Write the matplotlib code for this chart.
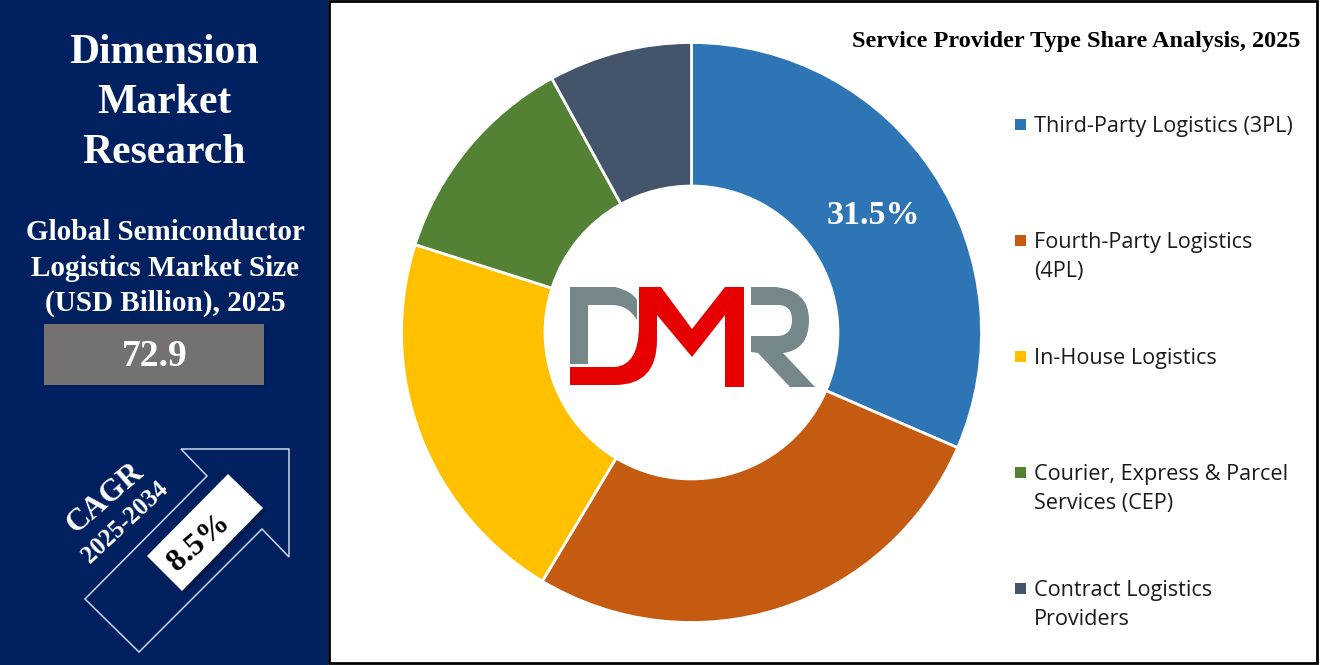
import numpy as np
import matplotlib
matplotlib.use("Agg")
import matplotlib.pyplot as plt
from matplotlib.patches import Polygon, Rectangle, PathPatch
from matplotlib.path import Path

categories = ["Third-Party Logistics (3PL)", "Fourth-Party Logistics\n(4PL)", "In-House Logistics",
              "Courier, Express & Parcel\nServices (CEP)", "Contract Logistics\nProviders"]
shares = [31.5, 27.1, 21.3, 12.1, 8.0]
colors = ["#2E75B6", "#C55A11", "#FFC000", "#548235", "#44546A"]
legend_y = [124, 240, 356, 472, 588]
title = "Service Provider Type Share Analysis, 2025"
W, H = 1322, 665
NAVY = "#002060"
SERIF = "Liberation Serif"
SANS = "Open Sans"

fig = plt.figure(figsize=(W/100, H/100), dpi=100, facecolor="white")
bg = fig.add_axes([0, 0, 1, 1]); bg.set_xlim(0, W); bg.set_ylim(H, 0); bg.axis("off")
bg.add_patch(Rectangle((0, 0), 328, 665, fc=NAVY, ec="none"))
bg.add_patch(Rectangle((329, 1), 987.5, 661.5, fc="white", ec="black", lw=2))

# donut
cx, cy, R = 691.5, 332.5, 290
ax = fig.add_axes([(cx-R)/W, 1-(cy+R)/H, 2*R/W, 2*R/H])
ax.pie(shares, colors=colors, startangle=90, counterclock=False, radius=1,
       wedgeprops=dict(width=0.495, edgecolor="white", linewidth=2))
ax.set_xlim(-1, 1); ax.set_ylim(-1, 1); ax.set_aspect("equal")
ax.patch.set_alpha(0)

ov = fig.add_axes([0, 0, 1, 1]); ov.set_xlim(0, W); ov.set_ylim(H, 0); ov.axis("off")
ov.patch.set_alpha(0)

ov.text(873, 215, f"{shares[0]}%", color="white", family=SERIF, weight="bold", fontsize=24.5, ha="center", va="center")

# side panel
for t, y in zip(["Dimension", "Market", "Research"], [53, 103, 153]):
    ov.text(164, y, t, color="white", family=SERIF, weight="bold", fontsize=30, ha="center", va="center")
for t, y in zip(["Global Semiconductor", "Logistics Market Size", "(USD Billion), 2025"], [233, 268, 303]):
    ov.text(165, y, t, color="white", family=SERIF, weight="bold", fontsize=21, ha="center", va="center")
ov.add_patch(Rectangle((47, 327), 220, 60, fc="#001a4d", ec="none", alpha=.6))
ov.add_patch(Rectangle((44, 324), 220, 61, fc="#767171", ec="none"))
ov.text(154.5, 357, "72.9", color="white", family=SERIF, weight="bold", fontsize=27, ha="center", va="center")

arrow = [(85, 599), (207, 476), (181, 449), (289, 449), (289, 557), (262, 529), (139, 652)]
ov.add_patch(Polygon(arrow, closed=True, fc="none", ec="#c9d6ee", lw=1.1))
ov.add_patch(Polygon([(231, 477), (266, 511), (185, 594), (150, 559)], fc="#00153f", ec="none", alpha=.6))
ov.add_patch(Polygon([(228, 474), (263, 508), (182, 591), (147, 556)], fc="white", ec="none"))
ov.text(199, 543, "8.5%", color="black", family=SERIF, weight="bold", fontsize=23, rotation=41,
        rotation_mode="anchor", ha="center", va="center")
ov.text(105, 498, "CAGR", color="white", family=SERIF, weight="bold", fontsize=22.5, rotation=41,
        rotation_mode="anchor", ha="center", va="center")
ov.text(125, 522, "2025-2034", color="white", family=SERIF, weight="bold", fontsize=18, rotation=43,
        rotation_mode="anchor", ha="center", va="center")

# title + legend
ov.text(1076, 41, title, color="black", family=SERIF, weight="bold", fontsize=17.5, ha="center", va="center")
for c, col, y in zip(categories, colors, legend_y):
    ov.add_patch(Rectangle((1015, y-5), 11, 11, fc=col, ec="none"))
    ov.text(1034, y-8, c, color="#1a1a1a", family=SANS, fontsize=15.6, ha="left", va="top", linespacing=1.53)

# logo
G, RED = "#76878A", "#E60000"
M, L, C3, Z = Path.MOVETO, Path.LINETO, Path.CURVE3, Path.CLOSEPOLY
def shape(items, col):
    v, c = zip(*items)
    ov.add_patch(PathPatch(Path(v, c), fc=col, ec="none"))
shape([((570, 287), M), ((615, 287), L), ((632, 291), C3), ((637, 300), C3), ((637, 320), L),
       ((628, 305), C3), ((612, 305), C3), ((588, 305), L), ((588, 364), L), ((570, 364), L), ((570, 287), Z)], G)
shape([((751, 287), M), ((775, 287), L), ((809, 290), C3), ((809, 320), C3), ((809, 350), C3), ((783, 353), C3),
       ((815, 387), L), ((790, 387), L), ((758, 353), L), ((751, 352), L), ((751, 336), L), ((778, 336), L),
       ((792, 335), C3), ((792, 320), C3), ((792, 305), C3), ((778, 305), C3), ((751, 305), L), ((751, 287), Z)], G)
shape([((570, 367), M), ((615, 367), L), ((639, 365), C3), ((639, 325), C3), ((639, 287), L), ((661, 287), L),
       ((692, 329), L), ((725, 287), L), ((744, 287), L), ((744, 387), L), ((725, 387), L), ((725, 315), L),
       ((692, 357), L), ((657, 315), L), ((657, 340), L), ((657, 385), C3), ((615, 385), C3), ((570, 385), L),
       ((570, 367), Z)], RED)

fig.savefig("out.png", dpi=100, facecolor="white")
